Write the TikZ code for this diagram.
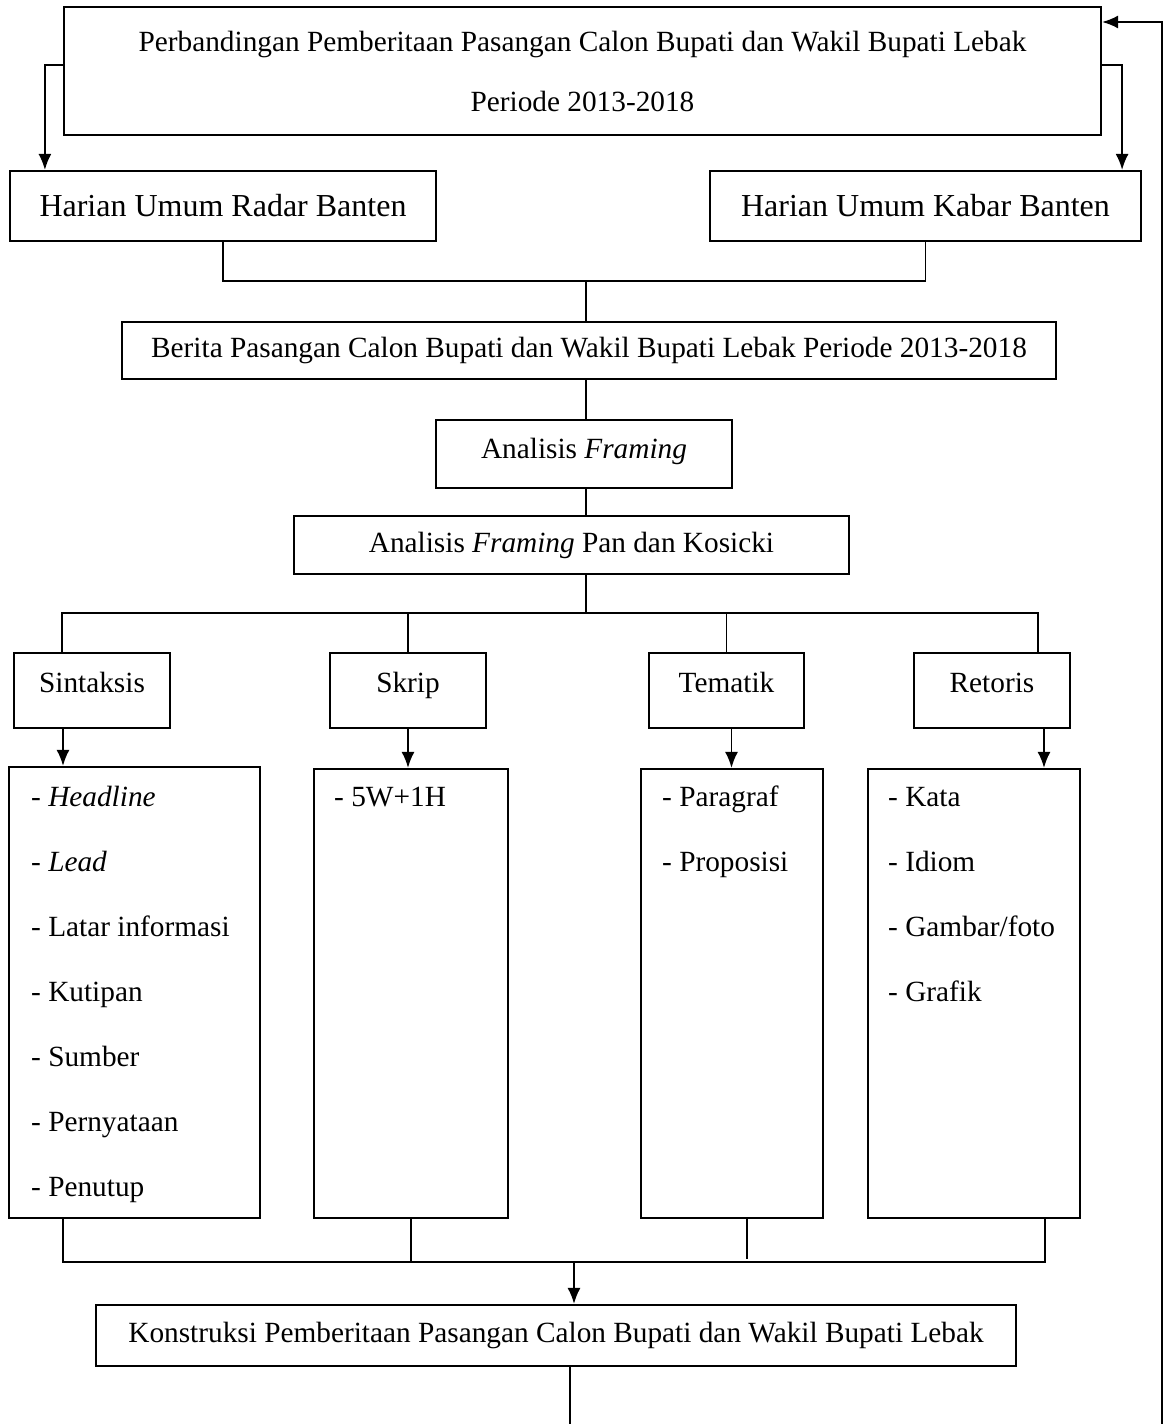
\documentclass[tikz,border=0pt]{standalone}
\usepackage{fontspec}
\setmainfont{Liberation Serif}
\usetikzlibrary{arrows.meta}
\begin{document}
\begin{tikzpicture}[x=1pt,y=-1pt,
  box/.style={draw,line width=2.2pt,inner sep=0pt,font=\fontsize{29.3}{34}\selectfont},
  con/.style={line width=1.8pt},
  arr/.style={line width=1.8pt,-{Latex[length=16pt,width=13pt]}},
  item/.style={anchor=base west,inner sep=0pt,font=\fontsize{29.3}{34}\selectfont}]
\useasboundingbox (0,0) rectangle (1164,1424);
% boxes
\node[box,minimum width=1037pt,minimum height=128pt,align=center,font=\fontsize{29.3}{60}\selectfont] (title) at (582.5,71) {Perbandingan Pemberitaan Pasangan Calon Bupati dan Wakil Bupati Lebak\\Periode 2013-2018};
\node[box,minimum width=426pt,minimum height=70pt,font=\fontsize{32}{36}\selectfont] (radar) at (223,206) {Harian Umum Radar Banten};
\node[box,minimum width=431pt,minimum height=70pt,font=\fontsize{32}{36}\selectfont] (kabar) at (925.5,206) {Harian Umum Kabar Banten};
\node[box,minimum width=934pt,minimum height=57pt] (berita) at (589,350.5) {Berita Pasangan Calon Bupati dan Wakil Bupati Lebak Periode 2013-2018};
\node[box,minimum width=296pt,minimum height=68pt,text depth=12pt] (af) at (584,454) {Analisis \textit{Framing}};
\node[box,minimum width=555pt,minimum height=58pt] (afpk) at (571.5,545) {Analisis \textit{Framing} Pan dan Kosicki};
\node[box,minimum width=156pt,minimum height=75pt,text depth=16pt] (sin) at (92,690.5) {Sintaksis};
\node[box,minimum width=156pt,minimum height=75pt,text depth=16pt] (skr) at (408,690.5) {Skrip};
\node[box,minimum width=155pt,minimum height=75pt,text depth=16pt] (tem) at (726.5,690.5) {Tematik};
\node[box,minimum width=156pt,minimum height=75pt,text depth=16pt] (ret) at (992,690.5) {Retoris};
\node[box,minimum width=251pt,minimum height=451pt] (L1) at (134.5,992.5) {};
\node[box,minimum width=194pt,minimum height=449pt] (L2) at (411,993.5) {};
\node[box,minimum width=182pt,minimum height=449pt] (L3) at (732,993.5) {};
\node[box,minimum width=212pt,minimum height=449pt] (L4) at (974,993.5) {};
\node[box,minimum width=920pt,minimum height=61pt] (kons) at (556,1335.5) {Konstruksi Pemberitaan Pasangan Calon Bupati dan Wakil Bupati Lebak};
% list items
\node[item] (a1) at (31,806) {- \textit{Headline}};
\node[item] (a2) at (31,871) {- \textit{Lead}};
\node[item] (a3) at (31,936) {- Latar informasi};
\node[item] (a4) at (31,1001) {- Kutipan};
\node[item] (a5) at (31,1066) {- Sumber};
\node[item] (a6) at (31,1131) {- Pernyataan};
\node[item] (a7) at (31,1196) {- Penutup};
\node[item] (b1) at (334,806) {- 5W+1H};
\node[item] (c1) at (662,806) {- Paragraf};
\node[item] (c2) at (662,871) {- Proposisi};
\node[item] (d1) at (888,806) {- Kata};
\node[item] (d2) at (888,871) {- Idiom};
\node[item] (d3) at (888,936) {- Gambar/foto};
\node[item] (d4) at (888,1001) {- Grafik};
% coordinates
\coordinate (j1) at (586,281);
\coordinate (j2) at (586,613);
\coordinate (j3) at (574,1262);
\coordinate (fbtop) at (1162,22);
\coordinate (fbbot) at (1162,1424);
\coordinate (bot) at (570,1424);
% connectors
\draw[arr] ([yshift=6pt]title.west) -| ([xshift=36pt]radar.north west);
\draw[arr] ([yshift=6pt]title.east) -| ([xshift=-20pt]kabar.north east);
\draw[arr] (fbbot) -- (fbtop) -- (title.east |- fbtop);
\draw[con] (radar.south) |- (j1) -| (kabar.south);
\draw[con] (j1) -- (j1 |- berita.north);
\draw[con] (berita.south -| j1) -- (af.north -| j1);
\draw[con] (af.south -| j1) -- (afpk.north -| j1);
\draw[con] (afpk.south -| j2) -- (j2);
\draw[con] ([xshift=-30pt]sin.north) |- (j2) -| ([xshift=46pt]ret.north);
\draw[con] (skr.north) -- (skr.north |- j2);
\draw[con] (tem.north) -- (tem.north |- j2);
\draw[arr] ([xshift=-29pt]sin.south) -- ([xshift=-29pt]sin.south |- L1.north);
\draw[arr] (skr.south) -- (skr.south |- L2.north);
\draw[arr] ([xshift=5pt]tem.south) -- ([xshift=5pt]tem.south |- L3.north);
\draw[arr] ([xshift=52pt]ret.south) -- ([xshift=52pt]ret.south |- L4.north);
\draw[con] ([xshift=55pt]L1.south west) |- (j3) -| ([xshift=71pt]L4.south);
\draw[con] (L2.south) -- (L2.south |- j3);
\draw[con] ([xshift=15pt]L3.south) -- ++(0,40);
\draw[arr] (j3) -- (j3 |- kons.north);
\draw[con] (kons.south -| bot) -- (bot);
\end{tikzpicture}
\end{document}
